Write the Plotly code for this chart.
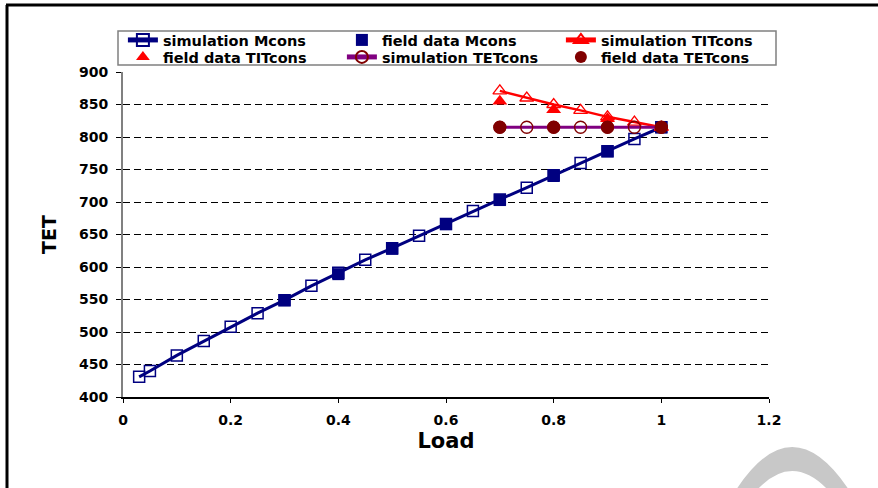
import plotly.graph_objects as go

# Load fractions and TET values
sim_load = [0.03, 0.05, 0.1, 0.15, 0.2, 0.25, 0.3, 0.35, 0.4, 0.45, 0.5,
            0.55, 0.6, 0.65, 0.7, 0.75, 0.8, 0.85, 0.9, 0.95, 1.0]
sim_mcons = [431, 440, 464, 486, 508, 529, 549, 571, 591, 611, 629,
             648, 666, 686, 704, 722, 741, 760, 778, 797, 815]

field_load = [0.3, 0.4, 0.5, 0.6, 0.7, 0.8, 0.9, 1.0]
field_mcons = [549, 589, 628, 666, 703, 740, 778, 815]

tit_load = [0.7, 0.75, 0.8, 0.85, 0.9, 0.95, 1.0]
sim_titcons = [871, 860, 850, 841, 831, 823, 815]

field_tit_load = [0.7, 0.8, 0.9, 1.0]
field_titcons = [855, 842, 828, 815]

tet_load = [0.7, 0.75, 0.8, 0.85, 0.9, 0.95, 1.0]
sim_tetcons = [815, 815, 815, 815, 815, 815, 815]

field_tet_load = [0.7, 0.8, 0.9, 1.0]
field_tetcons = [815, 815, 815, 815]

x_ticks = [0, 0.2, 0.4, 0.6, 0.8, 1, 1.2]
x_tick_text = ["0", "0.2", "0.4", "0.6", "0.8", "1", "1.2"]
y_ticks = [400, 450, 500, 550, 600, 650, 700, 750, 800, 850, 900]

NAVY = "#000080"
RED = "#FF0000"
PURPLE = "#800080"
MAROON = "#800000"
FONT = "DejaVu Sans"

fig = go.Figure()
fig.add_trace(go.Scatter(
    x=sim_load, y=sim_mcons, mode="lines+markers", name="simulation Mcons",
    legend="legend",
    line=dict(color=NAVY, width=3),
    marker=dict(symbol="square-open", size=11, color=NAVY, line=dict(width=1.5, color=NAVY))))
fig.add_trace(go.Scatter(
    x=field_load, y=field_mcons, mode="markers", name="field data Mcons",
    legend="legend",
    marker=dict(symbol="square", size=12, color=NAVY)))
fig.add_trace(go.Scatter(
    x=tit_load, y=sim_titcons, mode="lines+markers", name="simulation TITcons",
    legend="legend",
    line=dict(color=RED, width=2.5),
    marker=dict(symbol="triangle-up-open", size=12, color=RED, line=dict(width=1.3, color=RED))))
fig.add_trace(go.Scatter(
    x=field_tit_load, y=field_titcons, mode="markers", name="field data TITcons",
    legend="legend2",
    marker=dict(symbol="triangle-up", size=13, color=RED)))
fig.add_trace(go.Scatter(
    x=tet_load, y=sim_tetcons, mode="lines+markers", name="simulation TETcons",
    legend="legend2",
    line=dict(color=PURPLE, width=3),
    marker=dict(symbol="circle-open", size=12, color=MAROON, line=dict(width=1.3, color=MAROON))))
fig.add_trace(go.Scatter(
    x=field_tet_load, y=field_tetcons, mode="markers", name="field data TETcons",
    legend="legend2",
    marker=dict(symbol="circle", size=13, color=MAROON)))

# plot area spans pixels 123..769 horizontally and 72..397 vertically
L, R, T, B = 123, 769, 72, 397
W, H = 878, 488


def px_x(p):
    return (p - L) / (R - L)


def px_y(p):
    return (B - p) / (B - T)


shapes = [
    # page frame (left and top edges)
    dict(type="line", xref="paper", yref="paper",
         x0=px_x(7), x1=px_x(7), y0=px_y(5), y1=px_y(H + 5),
         line=dict(color="black", width=3)),
    dict(type="line", xref="paper", yref="paper",
         x0=px_x(6), x1=px_x(W + 5), y0=px_y(5), y1=px_y(5),
         line=dict(color="black", width=3)),
    # legend frame shared by both legend rows
    dict(type="rect", xref="paper", yref="paper",
         x0=px_x(118), x1=px_x(776), y0=px_y(31), y1=px_y(65),
         line=dict(color="#808080", width=1.5), fillcolor="white", layer="below"),
    # faint stamp arc in the lower right corner
    dict(type="path", xref="paper", yref="paper", layer="below",
         path=("M {a},{b} Q {c},{d} {e},{f} L {g},{h} Q {i},{j} {k},{l} Z").format(
             a=px_x(736), b=px_y(490), c=px_x(792), d=px_y(404), e=px_x(849), f=px_y(490),
             g=px_x(828), h=px_y(490), i=px_x(792), j=px_y(452), k=px_x(757), l=px_y(490)),
         fillcolor="#c8c8c8", line=dict(width=0)),
]

# the legend's left edge stays just left of the plot area so each row keeps three columns
legend_common = dict(
    orientation="h", xanchor="left", yanchor="top",
    entrywidth=174, entrywidthmode="pixels",
    borderwidth=0, bgcolor="rgba(0,0,0,0)",
    font=dict(family=FONT, size=14.5, weight="bold"),
    traceorder="normal", itemsizing="constant",
)

fig.update_layout(
    width=W, height=H,
    margin=dict(l=L, r=W - R, t=T, b=H - B),
    paper_bgcolor="white", plot_bgcolor="white",
    font=dict(family=FONT, color="black", size=14, weight="bold"),
    showlegend=True,
    legend=dict(x=px_x(122.9), y=px_y(24), **legend_common),
    legend2=dict(x=px_x(122.9), y=px_y(41), **legend_common),
    xaxis=dict(
        range=[0, 1.2], tickvals=x_ticks, ticktext=x_tick_text,
        showgrid=False, zeroline=False,
        showline=True, linecolor="black", linewidth=1.5,
        ticks="outside", ticklen=4, tickcolor="black", tickwidth=1,
        ticklabelstandoff=5,
        tickfont=dict(family=FONT, size=14, weight="bold"),
        title=dict(text="Load", font=dict(family=FONT, size=21, weight="bold"), standoff=7),
    ),
    yaxis=dict(
        range=[400, 900], tickvals=y_ticks,
        showgrid=True, gridcolor="black", gridwidth=1, griddash="7px,4px",
        zeroline=False,
        showline=True, linecolor="#808080", linewidth=2,
        ticks="outside", ticklen=5, tickcolor="black", tickwidth=1,
        ticklabelstandoff=5,
        tickfont=dict(family=FONT, size=14, weight="bold"),
        title=dict(text="TET", font=dict(family=FONT, size=19, weight="bold"), standoff=17),
    ),
    shapes=shapes,
)

fig.write_html("out.html")
